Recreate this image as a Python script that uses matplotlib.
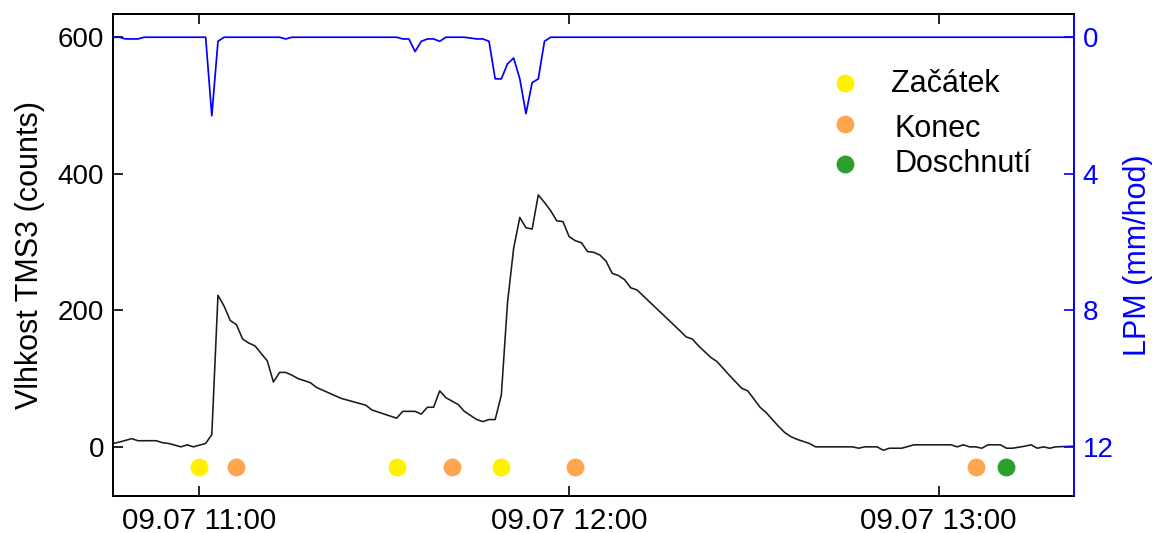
import numpy as np
import pandas as pd
import matplotlib
matplotlib.use("Agg")
import matplotlib.pyplot as plt
import matplotlib.dates as mdates

plt.rcParams['font.family'] = ['Liberation Sans', 'DejaVu Sans']

# soil moisture (TMS3 counts), minutes relative to 09.07 11:00
vlh_min = [-14, -13, -11, -10, -7, -6, -5, -3, -2, -1, 1, 2, 3, 4, 5, 6, 7, 8, 9,
           11, 12, 13, 14, 15, 16, 18, 19, 21, 23, 27, 28, 32, 33, 35, 36, 37, 38,
           39, 40, 42, 43, 45, 46, 47, 48, 49, 50, 51, 52, 53, 54, 55, 56, 57, 58,
           59, 60, 61, 62, 63, 64, 65, 66, 67, 68, 69, 70, 71, 78, 79, 80, 81, 83,
           84, 86, 88, 89, 91, 92, 94, 95, 96, 97, 99, 100, 106, 107, 108, 110, 111,
           112, 114, 116, 122, 123, 124, 125, 126, 127, 128, 130, 131, 132, 134,
           135, 136, 137, 138, 139, 142]
vlh = [5, 7, 12, 9, 9, 6, 5, 0, 3, 0, 5, 18, 222, 206, 185, 179, 158, 152, 148,
       126, 95, 109, 109, 105, 100, 94, 87, 79, 71, 61, 54, 42, 52, 52, 48, 58, 58,
       82, 72, 62, 52, 40, 37, 40, 40, 76, 211, 291, 336, 321, 319, 369, 358, 346, 331,
       330, 308, 302, 299, 286, 285, 281, 272, 254, 251, 245, 233, 230, 170, 161, 158, 148, 131,
       125, 105, 86, 82, 58, 50, 30, 21, 15, 11, 5, 0, 0, -2, 0, 0, -5,
       -2, -2, 3, 3, 0, 3, 0, 0, -2, 3, 3, -2, -2, 1,
       3, -2, 0, -2, 0, 1]

# rain intensity LPM (mm/hod)
lpm_min = [-14, -13, -12, -10, -9, 1, 2, 3, 4, 13, 14, 15, 32, 33, 34, 35, 36, 37,
           38, 39, 40, 43, 45, 46, 47, 48, 49, 50, 51, 52, 53, 54, 55, 56, 57, 142]
lpm = [0, 0, 0.05, 0.05, 0, 0, 2.3, 0.12, 0, 0, 0.05, 0, 0, 0.05, 0.05, 0.42, 0.12, 0.05,
       0.05, 0.12, 0, 0, 0.05, 0.05, 0.12, 1.22, 1.22, 0.78, 0.61, 1.22, 2.24, 1.33, 1.22, 0.12, 0, 0]

# events
zacatek = [0, 32, 49]
konec = [6, 41, 61, 126]
doschnuti = [131]
event_level = -30

base = pd.Timestamp('2021-07-09 11:00')


def to_time(minutes):
    return base + pd.to_timedelta(minutes, unit='min')


fig = plt.figure(figsize=(11.52, 5.33), dpi=100)
ax = fig.add_axes([0.0983, 0.0694, 0.8342, 0.9043])
ax2 = ax.twinx()

ax.plot(to_time(vlh_min), vlh, color='#1a1a1a', lw=1.15)
ax2.plot(to_time(lpm_min), lpm, color='blue', lw=1.25)

ms = 165
ax.scatter(to_time(zacatek), [event_level] * len(zacatek), s=ms, color='#FFF000', zorder=3, linewidths=0)
ax.scatter(to_time(konec), [event_level] * len(konec), s=ms, color='#FFA54F', zorder=3, linewidths=0)
ax.scatter(to_time(doschnuti), [event_level] * len(doschnuti), s=ms, color='#2CA02C', zorder=3, linewidths=0)

ax.set_xlim(to_time(vlh_min[0]), to_time(vlh_min[-1]))
ax.set_ylim(-72, 634)
ax2.set_ylim(13.44, -0.68)

ax.set_yticks([0, 200, 400, 600])
ax2.set_yticks([0, 4, 8, 12])
ax.xaxis.set_major_locator(mdates.HourLocator())
ax.xaxis.set_major_formatter(mdates.DateFormatter('%d.%m %H:%M'))

fs = 22
ax.tick_params(axis='both', direction='in', length=7, width=1.2)
ax.tick_params(axis='y', labelsize=20, pad=6.5)
ax.tick_params(axis='x', top=True, labelsize=21.3, pad=8)
ax2.tick_params(axis='y', direction='in', length=7, width=1.2, labelsize=20, pad=6,
                colors='blue')

for s in ['left', 'top', 'bottom']:
    ax.spines[s].set_linewidth(1.4)
    ax2.spines[s].set_linewidth(1.4)
ax.spines['right'].set_visible(False)
ax2.spines['right'].set_color('blue')
ax2.spines['right'].set_linewidth(1.4)

ax.set_ylabel('Vlhkost TMS3 (counts)', fontsize=fs)
ax.yaxis.set_label_coords(-0.071, 0.5)
ax2.set_ylabel('LPM (mm/hod)', fontsize=fs, color='blue')
ax2.yaxis.set_label_coords(1.051, 0.5)

# legend
leg_labels = ['Začátek', 'Konec', 'Doschnutí']
leg_colors = ['#FFF000', '#FFA54F', '#2CA02C']
leg_my = [0.856, 0.771, 0.689]
leg_ty = [0.838, 0.745, 0.672]
leg_tx = [0.809, 0.813, 0.813]
for lab, col, my, ty, tx in zip(leg_labels, leg_colors, leg_my, leg_ty, leg_tx):
    ax.scatter([0.7614], [my], s=ms, color=col, transform=ax.transAxes, linewidths=0)
    ax.text(tx, ty, lab, transform=ax.transAxes, fontsize=fs, va='baseline', ha='left')

fig.savefig('out.png', dpi=100)
